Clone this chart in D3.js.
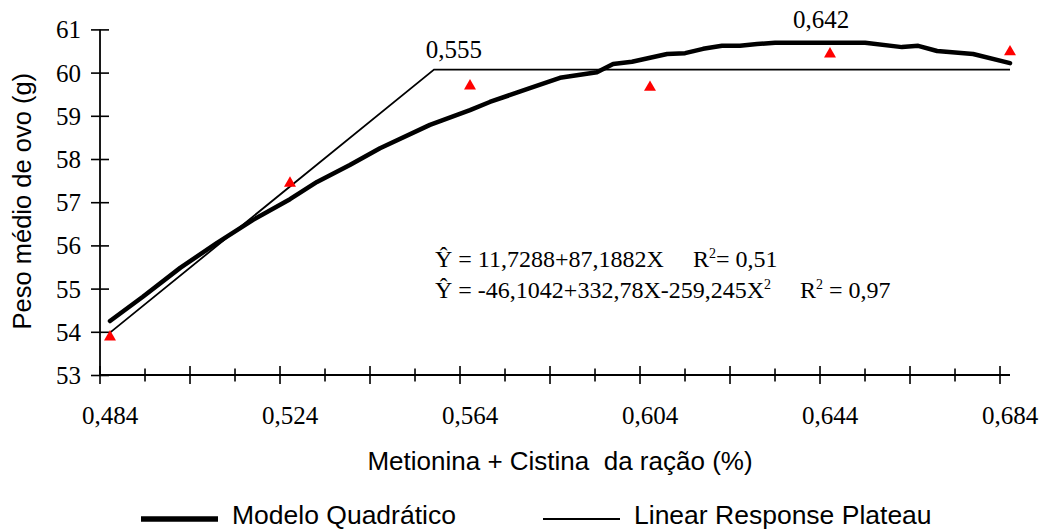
<!DOCTYPE html>
<html>
<head>
<meta charset="utf-8">
<script src="https://cdn.jsdelivr.net/npm/d3@7"></script>
<style>
  body { margin: 0; background: #fff; }
  svg { display: block; }
</style>
</head>
<body>
<svg id="chart" width="1042" height="530"></svg>
<script>
// observed means (red triangles)
var levels = [0.484, 0.524, 0.564, 0.604, 0.644, 0.684];
var observed = [53.88, 57.44, 59.69, 59.66, 60.43, 60.48];

// quadratic model, vertices
var quadX = [0.484, 0.4913, 0.4996, 0.5078, 0.5158, 0.524, 0.530, 0.5373, 0.544, 0.5551,
             0.564, 0.5684, 0.5773, 0.584, 0.5922, 0.5958, 0.600, 0.6078, 0.6118, 0.6158,
             0.620, 0.624, 0.6278, 0.6318, 0.6518, 0.660, 0.6636, 0.6678, 0.6758, 0.684];
var quadY = [54.25, 54.81, 55.48, 56.06, 56.59, 57.07, 57.47, 57.86, 58.25, 58.79,
             59.13, 59.32, 59.64, 59.88, 60.01, 60.20, 60.25, 60.43, 60.45, 60.55,
             60.62, 60.62, 60.66, 60.69, 60.69, 60.59, 60.62, 60.50, 60.43, 60.22];

// linear response plateau
var lrpX = [0.484, 0.556, 0.684];
var lrpY = [53.98, 60.07, 60.07];

var yTicks = [53, 54, 55, 56, 57, 58, 59, 60, 61];
var xLabels = [0.484, 0.524, 0.564, 0.604, 0.644, 0.684];
var xTickStart = 0.48178, xTickStep = 0.01, xTickCount = 21;

var SERIF = "'Liberation Serif', 'Times New Roman', serif";
var SANS = "'Liberation Sans', Arial, sans-serif";

var svg = d3.select("#chart");

var x = d3.scaleLinear().domain([0.484, 0.684]).range([110, 1010]);
var y = d3.scaleLinear().domain([53, 61]).range([375, 29.4]);

var comma = function(d, f) { return d3.format(f)(d).replace(".", ","); };

// y axis
var yAxis = d3.axisLeft(y)
    .tickValues(yTicks)
    .tickSize(9)
    .tickPadding(10)
    .tickFormat(function(d) { return d; });

var gy = svg.append("g")
    .attr("transform", "translate(" + x(xTickStart) + ",0)")
    .call(yAxis)
    .attr("font-family", SERIF)
    .attr("font-size", 25);
gy.select(".domain").remove();
gy.selectAll(".tick line").attr("x1", 9).attr("x2", -9).attr("stroke", "#000").attr("stroke-width", 1.6);
gy.selectAll(".tick text")
    .style("font-family", SERIF)
    .style("font-size", "25px")
    .attr("fill", "#000")
    .attr("dy", "0.34em");
gy.append("line")
    .attr("x1", 0).attr("x2", 0)
    .attr("y1", y(53)).attr("y2", y(61))
    .attr("stroke", "#000").attr("stroke-width", 1.8);

// x axis
var xTicks = d3.range(xTickCount).map(function(i) { return xTickStart + i * xTickStep; });
var gx = svg.append("g");
gx.append("line")
    .attr("x1", x(xTickStart)).attr("x2", x(0.684))
    .attr("y1", y(53)).attr("y2", y(53))
    .attr("stroke", "#000").attr("stroke-width", 1.8);
gx.selectAll("line.xt")
    .data(xTicks)
    .join("line")
    .attr("class", "xt")
    .attr("x1", function(d) { return x(d); })
    .attr("x2", function(d) { return x(d); })
    .attr("y1", function(d, i) { return y(53) - (i % 2 ? 6.5 : 9); })
    .attr("y2", function(d, i) { return y(53) + (i % 2 ? 6.5 : 9); })
    .attr("stroke", "#000").attr("stroke-width", 1.6);
gx.selectAll("text")
    .data(xLabels)
    .join("text")
    .attr("x", function(d) { return x(d); })
    .attr("y", 424)
    .attr("text-anchor", "middle")
    .style("font-family", SERIF)
    .style("font-size", "25px")
    .text(function(d) { return comma(d, ".3f"); });

// axis titles
svg.append("text")
    .attr("transform", "translate(31," + ((y(53) + y(61)) / 2 - 1) + ") rotate(-90)")
    .attr("text-anchor", "middle")
    .style("font-family", SANS)
    .style("font-size", "25.5px")
    .text("Peso médio de ovo (g)");

svg.append("text")
    .attr("x", 560)
    .attr("y", 470)
    .attr("text-anchor", "middle")
    .style("font-family", SANS)
    .style("font-size", "26px")
    .style("white-space", "pre")
    .text("Metionina + Cistina  da ração (%)");

// lines
var line = d3.line()
    .x(function(d) { return x(d[0]); })
    .y(function(d) { return y(d[1]); });

svg.append("path")
    .datum(d3.zip(lrpX, lrpY))
    .attr("d", line)
    .attr("fill", "none")
    .attr("stroke", "#000")
    .attr("stroke-width", 1.8);

svg.append("path")
    .datum(d3.zip(quadX, quadY))
    .attr("d", line)
    .attr("fill", "none")
    .attr("stroke", "#000")
    .attr("stroke-width", 4.5)
    .attr("stroke-linejoin", "round")
    .attr("stroke-linecap", "round");

// observed points
svg.selectAll("path.pt")
    .data(d3.zip(levels, observed))
    .join("path")
    .attr("class", "pt")
    .attr("d", d3.symbol(d3.symbolTriangle, 62))
    .attr("transform", function(d) { return "translate(" + x(d[0]) + "," + y(d[1]) + ")"; })
    .attr("fill", "#ff0000");

// annotations
svg.append("text")
    .attr("x", x(0.5562) + 19)
    .attr("y", y(lrpY[1]) - 12)
    .attr("text-anchor", "middle")
    .style("font-family", SERIF)
    .style("font-size", "25px")
    .text("0,555");

svg.append("text")
    .attr("x", x(0.642))
    .attr("y", 28)
    .attr("text-anchor", "middle")
    .style("font-family", SERIF)
    .style("font-size", "25px")
    .text("0,642");

function eqText(xp, yp) {
    return svg.append("text")
        .attr("x", xp).attr("y", yp)
        .style("font-family", SERIF)
        .style("font-size", "24px")
        .style("white-space", "pre");
}
function sup(t, s) {
    t.append("tspan").attr("dy", -9).style("font-size", "14px").text(s);
}
var e1 = eqText(435, 267);
e1.append("tspan").text("\u0176 = 11,7288+87,1882X");
var r1 = eqText(693, 267);
r1.append("tspan").text("R");
sup(r1, "2");
r1.append("tspan").attr("dy", 9).text("= 0,51");

var e2 = eqText(435, 298);
e2.append("tspan").text("\u0176 = -46,1042+332,78X-259,245X");
sup(e2, "2");
var r2 = eqText(800, 298);
r2.append("tspan").text("R");
sup(r2, "2");
r2.append("tspan").attr("dy", 9).text(" = 0,97");

// legend
var legend = [
    { label: "Modelo Quadrático", w: 5.5, x: 141 },
    { label: "Linear Response Plateau", w: 1.8, x: 543 }
];
var lg = svg.selectAll("g.lg")
    .data(legend)
    .join("g")
    .attr("class", "lg")
    .attr("transform", function(d) { return "translate(" + d.x + ",519)"; });
lg.append("line")
    .attr("x1", 0).attr("x2", 77)
    .attr("stroke", "#000")
    .attr("stroke-width", function(d) { return d.w; });
lg.append("text")
    .attr("x", 91)
    .attr("y", 5)
    .style("font-family", SANS)
    .style("font-size", "26.5px")
    .text(function(d) { return d.label; });
</script>
</body>
</html>
